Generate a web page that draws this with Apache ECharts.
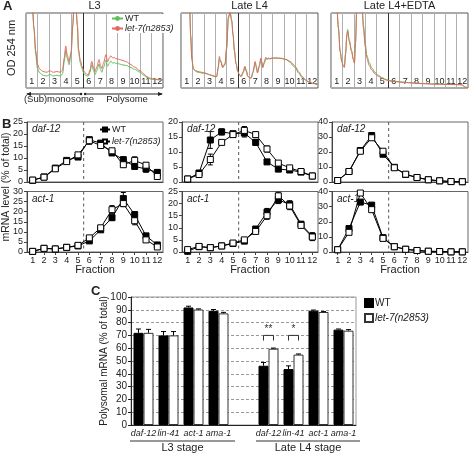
<!DOCTYPE html>
<html><head><meta charset="utf-8">
<script src="https://cdn.jsdelivr.net/npm/echarts@6/dist/echarts.min.js"></script>
<style>html,body{margin:0;padding:0;background:#fff}#c{width:472px;height:453px}</style>
</head><body><div id="c"></div>
<script>
// ---------------- DATA ----------------
const fractions = ['1','2','3','4','5','6','7','8','9','10','11','12'];
const polysomeStart = 6;
const profileTitles = ['L3', 'Late L4', 'Late L4+EDTA'];

// Panel A: OD254 traces (x in fraction units, y in % of box height)
const l3ProfileX = [0,0.55,0.7,0.85,1.0,1.2,1.5,1.8,2.1,2.4,2.7,3.0,3.2,3.35,3.48,3.6,3.77,3.95,4.1,4.2,4.35,4.5,4.6,4.75,4.9,5.05,5.2,5.35,5.46,5.6,5.76,5.9,6.05,6.2,6.4,6.52,6.64,6.8,7.0,7.15,7.3,7.43,7.6,7.72,7.85,7.95,8.2,8.4,8.8,9.1,9.5,10.0,10.3,10.6,10.9,11.2,11.5,11.75,12];
const l3ProfileLet7 = [110,110,80,50,32,25,22,21,23,21,22,21,24,40,56,45,35,48,85,110,115,85,52,38,29,23,20,18,17.6,24,35.6,28,22,28,38,30,26,34,44.6,35,40,43,40,41,39,39,38,37,35,32,28,23,19,15,13,12,11.5,11,10.5];
const l3ProfileWT = [110,110,78,45,26,20,17,16,18,16,17,16,19,35,50,40,31,45,82,110,115,82,48,34,26,20,17,16,16,21,31,24,18,23,32,25,21,28,37,29,33,36,33,34,33,33,32,31,30,28,25,21,17,14,12,11.5,11,10.8,10.5];

const l4ProfileX = [0,0.75,0.85,0.95,1.08,1.3,1.5,1.8,2.1,2.5,2.8,3.0,3.13,3.25,3.36,3.5,3.65,3.86,4.0,4.15,4.3,4.44,4.56,4.68,4.82,4.97,5.1,5.26,5.45,5.6,5.72,5.85,6.0,6.14,6.3,6.5,6.6,6.7,6.85,7.0,7.08,7.16,7.3,7.43,7.55,7.66,7.8,7.95,8.3,8.8,9.2,9.56,9.8,10.0,10.3,10.6,10.9,11.2,11.6,12];
const l4ProfileLet7 = [110,110,70,40,26,23,22,21,20,18,16.5,15.5,15.5,28,42,34,27,33,55,95,102,89,70,49,32,22,18,15.5,22,29,22,15.5,14,13,22,35.5,27,20,30,40,33,27,35,41,38,40,39,40,40,39.5,38,35.5,32,29,22,15.5,11,8,6,4.4];
const l4ProfileWT = [110,110,68,38,25,22,21,20,19.5,17.5,16,15,15,25,38,36,28,31,52,93,100,91,72,50,33,23,18,15,20,28,24,16,14,13,20,33,29,21,28,38,35,28,33,39,39,39,39,39.5,40,39.5,38,34.5,30,27,20,14,10.5,8,6,4.4];

const edtaProfileX = [0,0.5,0.65,0.8,0.95,1.08,1.17,1.28,1.38,1.46,1.6,1.8,1.95,2.05,2.15,2.25,2.4,2.6,2.75,2.84,3.0,3.13,3.35,3.57,3.85,4.15,4.45,4.74,5.0,5.3,6.0,6.8,7.8,8.8,10.0,11.2,11.45,11.6,11.75,12];
const edtaProfileLet7 = [110,110,80,49,35,29,27.5,45,68,75.5,62,49,38,33,60,105,115,115,100,80,55,40,30,24,19,15.5,13,11,10,9,8,7,6,5.3,4.8,4.4,4.2,3,1,0.5];
const edtaProfileWT = [110,110,80,49,35,29,28,47,71,78,64,50,39,34,62,105,115,115,102,84,60,44,34,27,21,17,14,12,10.5,9.5,8.3,7.2,6.2,5.5,5,4.6,4.3,3.2,1.2,0.5];

// Panel B: mRNA level (% of total) per fraction
const geneNamesB = ['daf-12', 'act-1'];
const l3Daf12WT = [0.7,2.1,5.8,9.0,10.4,17.6,16.2,12.1,9.3,6.5,5.4,4.0];
const l3Daf12WTErr = [0.2,0.3,0.5,0.6,0.8,1.0,0.8,1.0,1.2,1.0,1.3,1.0];
const l3Daf12Let7 = [0.8,2.0,5.5,8.5,11.3,17.2,15.2,13.0,7.2,9.0,7.0,2.3];
const l3Daf12Let7Err = [0.2,0.3,0.5,0.5,1.0,1.5,0.8,0.8,1.0,1.5,1.0,1.0];
const l3Act1WT = [0.3,1.8,1.5,2.3,3.0,5.5,11.0,17.0,26.5,18.5,8.0,3.5];
const l3Act1WTErr = [0.2,0.3,0.3,0.3,0.4,0.8,0.8,1.2,3.0,1.5,1.0,1.0];
const l3Act1Let7 = [0.3,1.8,1.5,2.3,3.3,7.0,12.0,21.0,24.0,15.5,6.0,2.5];
const l3Act1Let7Err = [0.2,0.3,0.3,0.3,0.4,0.8,1.0,2.0,1.5,2.0,1.0,0.8];

const l4Daf12WT = [1.0,3.0,14.0,16.7,16.1,16.3,13.2,6.7,4.3,4.0,3.3,2.0];
const l4Daf12WTErr = [0.2,0.4,2.8,1.0,0.5,1.3,1.0,0.5,0.5,0.5,0.4,0.3];
const l4Daf12Let7 = [1.0,2.5,7.5,13.2,15.8,17.2,15.8,11.0,6.3,4.7,3.5,2.0];
const l4Daf12Let7Err = [0.2,0.4,1.8,0.5,0.5,1.3,0.8,1.0,0.6,0.5,0.4,0.3];
const l4Act1WT = [0.3,2.2,1.8,2.5,3.5,4.5,9.5,16.5,21.5,19.7,11.5,6.5];
const l4Act1WTErr = [0.2,0.3,0.3,0.3,0.4,0.5,0.8,1.5,1.5,1.5,1.0,1.5];
const l4Act1Let7 = [1.0,2.3,1.8,2.5,3.7,5.0,8.5,15.0,23.2,19.0,11.0,6.2];
const l4Act1Let7Err = [0.2,0.3,0.3,0.3,0.4,0.5,0.6,1.5,1.5,1.5,1.0,1.5];

const edtaDaf12WT = [1.0,7.0,21.0,31.0,18.5,9.8,5.0,3.0,1.5,0.8,0.3,0.2];
const edtaDaf12WTErr = [0.3,0.5,1,1,1,0.5,0.4,0.3,0.2,0.2,0.1,0.1];
const edtaDaf12Let7 = [1.0,7.0,20.5,29.5,20.5,9.5,5.2,3.0,1.5,0.8,0.3,0.2];
const edtaDaf12Let7Err = [0.3,0.5,1,1,1,0.5,0.4,0.3,0.2,0.2,0.1,0.1];
const edtaAct1WT = [1.5,15.5,33.0,31.0,9.5,3.5,1.8,1.0,0.5,0.3,0.1,0.1];
const edtaAct1WTErr = [0.3,1,1,1,1,0.5,0.4,0.3,0.2,0.2,0.1,0.1];
const edtaAct1Let7 = [1.5,13.0,39.0,28.0,9.0,3.5,1.8,1.0,0.5,0.3,0.1,0.1];
const edtaAct1Let7Err = [0.3,1,1,1,1,0.5,0.4,0.3,0.2,0.2,0.1,0.1];

// y-axis ranges for panel B [max, interval]
const bYMaxDaf12 = [25, 20, 40];
const bYStepDaf12 = [5, 5, 10];
const bYMaxAct1 = [30, 25, 40];
const bYStepAct1 = [5, 5, 10];

// Panel C: polysomal mRNA (% of total)
const cCategories = ['daf-12','lin-41','act-1','ama-1','','daf-12','lin-41','act-1','ama-1'];
const cWT = [72, 70, 91.8, 89.2, null, 46.3, 43.7, 89.3, 74.5];
const cWTErr = [3, 3, 1, 1, null, 2.5, 2.5, 0.5, 0.5];
const cLet7 = [72, 70, 90.2, 87.2, null, 59.6, 55, 88.3, 73.7];
const cLet7Err = [2.7, 3, 0.5, 0.8, null, 0.5, 0.5, 0.3, 0.8];
const cStages = ['L3 stage', 'Late L4 stage'];
const cSigIndex = [5, 6];
const cSigMarks = ['**', '*'];
const cSigLevel = [70, 70];

// ---------------- CHART ----------------
const FONT = 'Liberation Sans';
const GREEN = '#5fbf5f', RED = '#e06a5f';
const BAR_W = 10;
const chart = echarts.init(document.getElementById('c'));
const grids = [], xAxes = [], yAxes = [], series = [], graphics = [];
const zip = (xs, ys) => xs.map((x, i) => [x, ys[i]]);

function txt(x, y, text, opt) {
  opt = opt || {};
  graphics.push({
    type: 'text', x: x, y: y, rotation: opt.rotation || 0, z: 100,
    style: {
      text: text, fill: opt.color || '#222',
      font: (opt.italic ? 'italic ' : '') + (opt.bold ? 'bold ' : '') + (opt.size || 10) + 'px ' + FONT,
      align: opt.align || 'center', verticalAlign: opt.valign || 'middle'
    }
  });
}
function gline(x1, y1, x2, y2, color, w) {
  graphics.push({type: 'line', z: 100, shape: {x1, y1, x2, y2}, style: {stroke: color || '#222', lineWidth: w || 1}});
}

// ---- Panel A ----
const profX = [l3ProfileX, l4ProfileX, edtaProfileX];
const profWT = [l3ProfileWT, l4ProfileWT, edtaProfileWT];
const profLet7 = [l3ProfileLet7, l4ProfileLet7, edtaProfileLet7];
const aLefts = [26, 181, 331], aW = 137, aTop = 13, aH = 75;
const splitColors = fractions.concat(['x']).map((f, i) => i === polysomeStart - 1 ? '#333' : '#b0b0b0');
for (let i = 0; i < 3; i++) {
  grids.push({left: aLefts[i], top: aTop, width: aW, height: aH, show: true, borderColor: '#555', borderWidth: 1});
  const g = grids.length - 1;
  xAxes.push({type: 'value', gridIndex: g, position: 'top', min: 0, max: fractions.length, interval: 1,
    axisLine: {show: false}, axisTick: {show: false}, axisLabel: {show: false},
    splitLine: {show: true, lineStyle: {color: splitColors, width: 1}}});
  const xv = xAxes.length - 1;
  xAxes.push({type: 'category', gridIndex: g, position: 'bottom', data: fractions, axisLine: {show: false}, axisTick: {show: false},
    splitLine: {show: false}, axisLabel: {inside: true, interval: 0, fontSize: 9, color: '#222', margin: 2, fontFamily: FONT}});
  yAxes.push({type: 'value', gridIndex: g, min: 0, max: 100, show: false});
  const y = yAxes.length - 1;
  series.push({type: 'line', name: i === 0 ? 'aWT' : 'aWT' + i, xAxisIndex: xv, yAxisIndex: y,
    data: zip(profX[i], profWT[i]), symbol: 'none', showSymbol: false, smooth: 0.3, smoothMonotone: 'x',
    lineStyle: {color: GREEN, width: 1}, itemStyle: {color: GREEN}, clip: true, z: 3, animation: false});
  series.push({type: 'line', name: i === 0 ? 'aLet7' : 'aLet7' + i, xAxisIndex: xv, yAxisIndex: y,
    data: zip(profX[i], profLet7[i]), symbol: 'none', showSymbol: false, smooth: 0.3, smoothMonotone: 'x',
    lineStyle: {color: RED, width: 1}, itemStyle: {color: RED}, clip: true, z: 4, animation: false});
  txt(aLefts[i] + aW / 2, 6, profileTitles[i], {size: 11});
}
txt(3, 6, 'A', {bold: true, size: 13, align: 'left'});
txt(12, 48, 'OD 254 nm', {rotation: Math.PI / 2, size: 11});
// monosome / polysome arrow
{
  const l = aLefts[0] + 1, r = aLefts[0] + aW - 1, m = aLefts[0] + aW * (polysomeStart - 1) / fractions.length, y = 94;
  gline(l, y, m - 2, y); gline(m + 2, y, r, y);
  graphics.push({type: 'polygon', z: 100, shape: {points: [[l - 1, y], [l + 4, y - 2], [l + 4, y + 2]]}, style: {fill: '#222'}});
  graphics.push({type: 'polygon', z: 100, shape: {points: [[r + 1, y], [r - 4, y - 2], [r - 4, y + 2]]}, style: {fill: '#222'}});
  graphics.push({type: 'circle', z: 100, shape: {cx: m - 2, cy: y, r: 1.2}, style: {fill: '#222'}});
  graphics.push({type: 'circle', z: 100, shape: {cx: m + 2, cy: y, r: 1.2}, style: {fill: '#222'}});
  txt(59, 99.5, '(Sub)monosome', {size: 9.5});
  txt(127, 99.5, 'Polysome', {size: 9.5});
}

// ---- Panel B ----
const bSets = [
  [[l3Daf12WT, l3Daf12WTErr, l3Daf12Let7, l3Daf12Let7Err], [l3Act1WT, l3Act1WTErr, l3Act1Let7, l3Act1Let7Err]],
  [[l4Daf12WT, l4Daf12WTErr, l4Daf12Let7, l4Daf12Let7Err], [l4Act1WT, l4Act1WTErr, l4Act1Let7, l4Act1Let7Err]],
  [[edtaDaf12WT, edtaDaf12WTErr, edtaDaf12Let7, edtaDaf12Let7Err], [edtaAct1WT, edtaAct1WTErr, edtaAct1Let7, edtaAct1Let7Err]]
];
const bLefts = [27, 182, 332], bW = 136, bTops = [122, 191.5], bH = [60, 60.5];
function errRender(params, api) {
  const x = api.value(0), v = api.value(1), e = api.value(2);
  if (!e) return;
  const hi = api.coord([x, v + e]), lo = api.coord([x, Math.max(0, v - e)]);
  const w = 2.5, st = {stroke: '#000', lineWidth: 1};
  return {type: 'group', children: [
    {type: 'line', shape: {x1: hi[0], y1: hi[1], x2: lo[0], y2: lo[1]}, style: st},
    {type: 'line', shape: {x1: hi[0] - w, y1: hi[1], x2: hi[0] + w, y2: hi[1]}, style: st},
    {type: 'line', shape: {x1: lo[0] - w, y1: lo[1], x2: lo[0] + w, y2: lo[1]}, style: st}
  ]};
}
function dashRender(params, api) {
  const p = api.coord([api.value(0), 0]);
  const cs = params.coordSys;
  return {type: 'line', shape: {x1: p[0], y1: cs.y, x2: p[0], y2: cs.y + cs.height},
    style: {stroke: '#555', lineWidth: 1, lineDash: [3, 3]}};
}
for (let c = 0; c < 3; c++) {
  for (let r = 0; r < 2; r++) {
    const set = bSets[c][r];
    grids.push({left: bLefts[c], top: bTops[r], width: bW, height: bH[r], show: true, borderColor: '#666', borderWidth: 1});
    const g = grids.length - 1;
    xAxes.push({type: 'category', gridIndex: g, position: 'bottom', data: fractions, boundaryGap: true,
      axisLine: {show: true, lineStyle: {color: '#444'}},
      axisTick: {show: r === 1, alignWithLabel: true, length: 3, lineStyle: {color: '#444'}},
      axisLabel: {show: r === 1, interval: 0, fontSize: 9, color: '#222', margin: 4, fontFamily: FONT},
      splitLine: {show: false}});
    const xc = xAxes.length - 1;
    xAxes.push({type: 'value', gridIndex: g, position: 'top', min: 0.5, max: fractions.length + 0.5, show: false});
    const xv = xAxes.length - 1;
    const ymax = r === 0 ? bYMaxDaf12[c] : bYMaxAct1[c];
    const ystep = r === 0 ? bYStepDaf12[c] : bYStepAct1[c];
    yAxes.push({type: 'value', gridIndex: g, min: 0, max: ymax, interval: ystep,
      axisLine: {show: true, lineStyle: {color: '#444'}},
      axisTick: {show: true, length: 3, lineStyle: {color: '#444'}},
      axisLabel: {fontSize: 9, color: '#222', margin: 4, fontFamily: FONT},
      splitLine: {show: false}});
    const y = yAxes.length - 1;
    series.push({type: 'custom', xAxisIndex: xv, yAxisIndex: y, data: [[polysomeStart - 0.5, 0]],
      renderItem: dashRender, silent: true, z: 1, animation: false});
    series.push({type: 'custom', xAxisIndex: xc, yAxisIndex: y,
      data: set[0].map((v, i) => [i, v, set[1][i]]), renderItem: errRender, z: 2, animation: false});
    series.push({type: 'custom', xAxisIndex: xc, yAxisIndex: y,
      data: set[2].map((v, i) => [i, v, set[3][i]]), renderItem: errRender, z: 2, animation: false});
    const sfx = (c === 0 && r === 0) ? '' : String(c) + r;
    series.push({type: 'line', name: 'bWT' + sfx, xAxisIndex: xc, yAxisIndex: y, data: set[0],
      symbol: 'rect', symbolSize: 6, showSymbol: true, lineStyle: {color: '#000', width: 1},
      itemStyle: {color: '#000', borderColor: '#000', borderWidth: 1}, z: 3, animation: false});
    series.push({type: 'line', name: 'bLet7' + sfx, xAxisIndex: xc, yAxisIndex: y, data: set[2],
      symbol: 'rect', symbolSize: 6, showSymbol: true, lineStyle: {color: '#000', width: 1},
      itemStyle: {color: '#fff', borderColor: '#000', borderWidth: 1}, z: 4, animation: false});
    txt(bLefts[c] + 5, bTops[r] + 7.5, geneNamesB[r], {italic: true, size: 10, align: 'left'});
  }
  txt(bLefts[c] + bW / 2, 270, 'Fraction', {size: 11});
}
txt(2, 124, 'B', {bold: true, size: 13, align: 'left'});
txt(6, 187, 'mRNA level (% of total)', {rotation: Math.PI / 2, size: 10.5});

// ---- Panel C ----
const cLeft = 131, cTop = 297, cW = 225, cH = 128;
grids.push({left: cLeft, top: cTop, width: cW, height: cH, show: true, borderColor: '#999', borderWidth: 1});
const gC = grids.length - 1;
xAxes.push({type: 'category', gridIndex: gC, data: cCategories,
  axisLine: {show: true, lineStyle: {color: '#222'}}, axisTick: {show: false},
  axisLabel: {interval: 0, fontSize: 9, fontStyle: 'italic', color: '#222', margin: 4, fontFamily: FONT}});
const xC = xAxes.length - 1;
yAxes.push({type: 'value', gridIndex: gC, min: 0, max: 100, interval: 10,
  axisLine: {show: true, lineStyle: {color: '#222'}}, axisTick: {show: true, length: 3, lineStyle: {color: '#222'}},
  axisLabel: {fontSize: 10, color: '#222', margin: 4, fontFamily: FONT},
  splitLine: {show: true, lineStyle: {color: '#999', type: [3, 2], width: 1}}});
const yC = yAxes.length - 1;
series.push({type: 'bar', name: 'cWT', xAxisIndex: xC, yAxisIndex: yC, data: cWT.map(v => v == null ? '-' : v),
  barWidth: BAR_W, barGap: '0%', itemStyle: {color: '#000', borderColor: '#000', borderWidth: 1}, z: 3, animation: false});
series.push({type: 'bar', name: 'cLet7', xAxisIndex: xC, yAxisIndex: yC, data: cLet7.map(v => v == null ? '-' : v),
  barWidth: BAR_W, barGap: '0%', itemStyle: {color: '#fff', borderColor: '#333', borderWidth: 1}, z: 3, animation: false});
function cErrRender(params, api) {
  const x = api.value(0), v = api.value(1), e = api.value(2), side = api.value(3);
  if (!e) return;
  const p0 = api.coord([x, v]), p1 = api.coord([x, v + e]);
  const cx = p0[0] + side * BAR_W / 2, w = 2.5, st = {stroke: '#000', lineWidth: 1};
  return {type: 'group', children: [
    {type: 'line', shape: {x1: cx, y1: p0[1], x2: cx, y2: p1[1]}, style: st},
    {type: 'line', shape: {x1: cx - w, y1: p1[1], x2: cx + w, y2: p1[1]}, style: st}
  ]};
}
series.push({type: 'custom', xAxisIndex: xC, yAxisIndex: yC, renderItem: cErrRender, z: 5, animation: false,
  data: cWT.map((v, i) => [i, v == null ? 0 : v, cWTErr[i] || 0, -1])});
series.push({type: 'custom', xAxisIndex: xC, yAxisIndex: yC, renderItem: cErrRender, z: 5, animation: false,
  data: cLet7.map((v, i) => [i, v == null ? 0 : v, cLet7Err[i] || 0, 1])});
series.push({type: 'custom', xAxisIndex: xC, yAxisIndex: yC, z: 5, animation: false,
  data: cSigIndex.map((ci, k) => [ci, cSigLevel[k], k]),
  renderItem: function (params, api) {
    const top = api.coord([api.value(0), api.value(1)]);
    const bot = api.coord([api.value(0), api.value(1) - 4]);
    const l = top[0] - BAR_W / 2, r = top[0] + BAR_W / 2, st = {stroke: '#333', lineWidth: 1};
    return {type: 'group', children: [
      {type: 'polyline', shape: {points: [[l, bot[1]], [l, top[1]], [r, top[1]], [r, bot[1]]]}, style: Object.assign({fill: 'none'}, st)},
      {type: 'text', x: top[0], y: top[1] - 1, style: {text: cSigMarks[api.value(2)], fill: '#333',
        font: '10px ' + FONT, align: 'center', verticalAlign: 'bottom'}}
    ]};
  }});
txt(91, 291, 'C', {bold: true, size: 13, align: 'left'});
txt(104, 361, 'Polysomal mRNA (% of total)', {rotation: Math.PI / 2, size: 10});
{
  const band = cW / cCategories.length;
  const st0 = cLeft - 1, st1 = cLeft + band * 4 + 4, st2 = cLeft + band * 5 + 0, st3 = cLeft + cW + 4;
  gline(st0, 441, st1, 441, '#333');
  gline(st2, 441, st3, 441, '#333');
  txt((st0 + st1) / 2, 448, cStages[0], {size: 11});
  txt((st2 + st3) / 2, 448, cStages[1], {size: 11});
}

const displayNames = {aWT: 'WT', aLet7: 'let-7(n2853)', bWT: 'WT', bLet7: 'let-7(n2853)', cWT: 'WT', cLet7: 'let-7(n2853)'};
const legFmt = n => n.indexOf('Let7') >= 0 ? '{i|' + displayNames[n] + '}' : displayNames[n];
const legRich = {i: {fontStyle: 'italic', fontSize: 9, fontFamily: FONT, color: '#222'}};

chart.setOption({
  animation: false,
  textStyle: {fontFamily: FONT},
  grid: grids, xAxis: xAxes, yAxis: yAxes, series: series,
  legend: [
    {data: ['aWT', 'aLet7'], orient: 'vertical', left: 110, top: 14, itemWidth: 11, itemHeight: 6, itemGap: 1,
      padding: [0, 2, 0, 1], backgroundColor: '#fff', formatter: legFmt,
      textStyle: {fontSize: 9, color: '#222', fontFamily: FONT, padding: [0, 0, 0, -3], rich: legRich}, selectedMode: false},
    {data: ['bWT', 'bLet7'], orient: 'vertical', left: 99, top: 125, itemWidth: 10, itemHeight: 5, itemGap: 3,
      padding: 0, formatter: legFmt,
      textStyle: {fontSize: 9, color: '#222', fontFamily: FONT, padding: [0, 0, 0, -3], rich: legRich}, selectedMode: false},
    {data: ['cWT', 'cLet7'], orient: 'vertical', left: 364, top: 298, itemWidth: 8, itemHeight: 8, itemGap: 5,
      icon: 'rect', padding: 0, formatter: legFmt,
      textStyle: {fontSize: 10, color: '#222', fontFamily: FONT, padding: [0, 0, 0, -3], rich: Object.assign({}, legRich, {i: Object.assign({}, legRich.i, {fontSize: 10})})}, selectedMode: false}
  ],
  graphic: graphics
});
</script>
</body></html>
